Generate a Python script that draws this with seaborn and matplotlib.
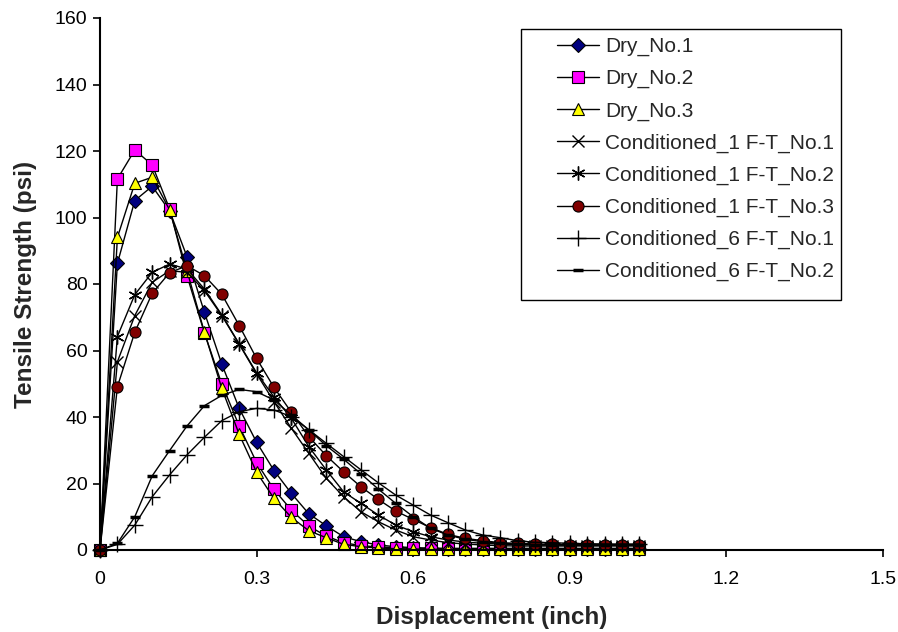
import numpy as np
import pandas as pd
import matplotlib
matplotlib.use("Agg")
import matplotlib.pyplot as plt
import seaborn as sns
from matplotlib.ticker import FuncFormatter
from matplotlib.patches import Rectangle

# ---- data ----
displacement = [i / 30 for i in range(32)]

dry_1 = [0, 86.2, 105.1, 109.4, 102.0, 88.2, 71.5, 55.9, 42.6, 32.4, 23.9, 17.0, 10.9, 7.3, 4.0, 2.5,
         1.5, 1.0, 0.7, 0.5, 0.4, 0.3, 0.3, 0.3, 0.3, 0.3, 0.3, 0.3, 0.3, 0.3, 0.3, 0.3]
dry_2 = [0, 111.6, 120.3, 115.8, 102.6, 82.5, 65.3, 49.9, 37.3, 26.3, 18.2, 12.0, 7.2, 4.2, 2.2, 1.3,
         0.9, 0.7, 0.6, 0.5, 0.5, 0.5, 0.5, 0.5, 0.5, 0.5, 0.5, 0.5, 0.5, 0.5, 0.5, 0.5]
dry_3 = [0, 94.0, 110.3, 112.1, 102.3, 84.0, 65.5, 48.6, 34.8, 23.4, 15.5, 9.8, 5.8, 3.7, 1.7, 1.0,
         0.6, 0.4, 0.3, 0.2, 0.2, 0.2, 0.2, 0.2, 0.2, 0.2, 0.2, 0.2, 0.2, 0.2, 0.2, 0.2]
cond1_1 = [0, 56.6, 70.5, 80.5, 84.0, 83.5, 78.0, 70.5, 61.9, 53.0, 44.6, 36.6, 29.1, 21.6, 16.0, 11.5,
           8.5, 6.0, 4.0, 3.0, 2.2, 1.8, 1.5, 1.3, 1.2, 1.2, 1.2, 1.2, 1.2, 1.2, 1.2, 1.2]
cond1_2 = [0, 64.2, 76.8, 83.5, 86.0, 84.5, 78.5, 70.7, 62.0, 53.3, 46.0, 39.6, 31.1, 24.1, 17.5, 14.0,
           10.5, 7.5, 5.5, 4.0, 3.0, 2.4, 2.0, 1.8, 1.6, 1.5, 1.5, 1.5, 1.5, 1.5, 1.5, 1.5]
cond1_3 = [0, 49.1, 65.5, 77.2, 83.4, 85.5, 82.5, 76.9, 67.5, 57.6, 48.9, 41.4, 34.1, 28.4, 23.5, 19.0,
           15.2, 11.7, 9.2, 6.7, 4.7, 3.5, 2.8, 2.2, 2.0, 1.8, 1.7, 1.6, 1.5, 1.5, 1.5, 1.5]
cond6_1 = [0, 1.7, 7.5, 16.0, 22.6, 28.6, 33.9, 38.9, 41.6, 42.6, 42.1, 40.1, 36.2, 32.1, 28.1, 24.1,
           20.2, 16.5, 13.5, 10.5, 8.2, 6.0, 4.5, 3.7, 2.8, 2.3, 2.2, 2.0, 1.9, 1.8, 1.8, 1.8]
cond6_2 = [0, 2.0, 10.0, 22.3, 29.9, 37.3, 43.4, 46.5, 48.3, 47.6, 45.1, 40.6, 36.1, 31.4, 27.3, 22.9,
           18.3, 14.0, 10.0, 6.5, 4.5, 3.2, 2.5, 2.0, 1.8, 1.6, 1.5, 1.5, 1.5, 1.5, 1.5, 1.5]

series_names = ["Dry_No.1", "Dry_No.2", "Dry_No.3",
                "Conditioned_1 F-T_No.1", "Conditioned_1 F-T_No.2", "Conditioned_1 F-T_No.3",
                "Conditioned_6 F-T_No.1", "Conditioned_6 F-T_No.2"]
series_values = [dry_1, dry_2, dry_3, cond1_1, cond1_2, cond1_3, cond6_1, cond6_2]

x_ticks = [0, 0.3, 0.6, 0.9, 1.2, 1.5]
y_ticks = [0, 20, 40, 60, 80, 100, 120, 140, 160]

# ---- styles ----
styles = [
    dict(marker="D", markersize=7, markerfacecolor="#000080", markeredgecolor="black", markeredgewidth=0.8),
    dict(marker="s", markersize=8, markerfacecolor="#FF00FF", markeredgecolor="black", markeredgewidth=0.8),
    dict(marker="^", markersize=9, markerfacecolor="#FFFF00", markeredgecolor="black", markeredgewidth=0.8),
    dict(marker="x", markersize=8.5, markeredgecolor="black", markeredgewidth=1.0),
    dict(marker=(6, 2, 0), markersize=10, markeredgecolor="black", markeredgewidth=1.0),
    dict(marker="o", markersize=8, markerfacecolor="#800000", markeredgecolor="black", markeredgewidth=0.8),
    dict(marker="+", markersize=11, markeredgecolor="black", markeredgewidth=1.0),
    dict(marker="_", markersize=7.5, markeredgecolor="black", markeredgewidth=2.5),
]

sns.set_style("white")
plt.rcParams["font.family"] = ["Liberation Sans", "DejaVu Sans"]

fig = plt.figure(figsize=(8.98, 6.32), dpi=100)
ax = fig.add_axes([100 / 898, 1 - 550 / 632, 783 / 898, 532 / 632])

for name, vals, st in zip(series_names, series_values, styles):
    df = pd.DataFrame({"Displacement": displacement, "Strength": vals})
    sns.lineplot(data=df, x="Displacement", y="Strength", ax=ax, color="black",
                 linewidth=1.0, label=name, clip_on=False, **st)

ax.set_xlim(0, 1.5)
ax.set_ylim(0, 160)
ax.set_xticks(x_ticks)
ax.set_yticks(y_ticks)
ax.xaxis.set_major_formatter(FuncFormatter(lambda v, p: "0" if v == 0 else f"{v:g}"))
ax.tick_params(axis="both", direction="out", length=5, width=1.2, labelsize=14, colors="black",
               bottom=True, left=True)
ax.tick_params(axis="x", pad=10)
ax.tick_params(axis="y", pad=4)

for side in ["top", "right"]:
    ax.spines[side].set_visible(False)
for side in ["left", "bottom"]:
    ax.spines[side].set_color("black")
    ax.spines[side].set_linewidth(1.5)

ax.set_xlabel("Displacement (inch)", fontsize=17.5, fontweight="bold")
ax.set_ylabel("Tensile Strength (psi)", fontsize=17.5, fontweight="bold")
ax.xaxis.set_label_coords(0.5, (550 - 606) / 532)
ax.yaxis.set_label_coords((14 - 100) / 783, 0.5)
ax.yaxis.label.set_verticalalignment("top")

leg = ax.legend(loc="upper left", bbox_to_anchor=((557 - 100) / 783, (550 - 37) / 532),
                fontsize=15, frameon=False, handlelength=2.0, labelspacing=0.62,
                handletextpad=0.3, borderpad=0, borderaxespad=0)

# legend box
ax.add_patch(Rectangle(((521 - 100) / 783, (550 - 300) / 532), 320 / 783, 271 / 532,
                       transform=ax.transAxes, fill=False, edgecolor="black",
                       linewidth=1.0, clip_on=False, zorder=5))

fig.savefig("out.png", dpi=100, facecolor="white")
